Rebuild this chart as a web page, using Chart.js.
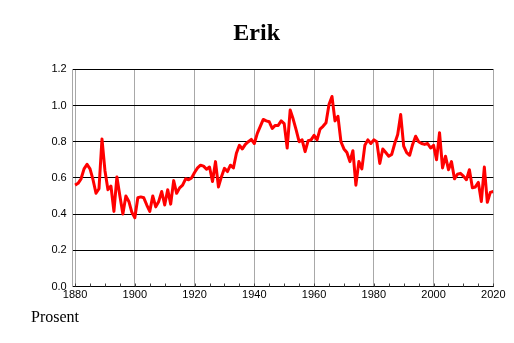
<!DOCTYPE html>
<html>
<head>
<meta charset="utf-8">
<script src="https://cdn.jsdelivr.net/npm/chart.js@4/dist/chart.umd.min.js"></script>
<style>
html,body{margin:0;padding:0;background:#fff;}
#wrap{width:514px;height:343px;position:relative;}
</style>
</head>
<body>
<div id="wrap"><canvas id="c" width="514" height="343"></canvas></div>
<script>
const chartTitle = 'Erik';
const unitLabel = 'Prosent';
const firstYear = 1880;
const shares = [
  0.56, 0.57, 0.595, 0.65, 0.675, 0.65, 0.59, 0.515, 0.54, 0.815,
  0.64, 0.535, 0.555, 0.415, 0.605, 0.50, 0.40, 0.50, 0.47, 0.41,
  0.38, 0.49, 0.495, 0.49, 0.45, 0.415, 0.50, 0.44, 0.47, 0.525,
  0.45, 0.535, 0.455, 0.585, 0.515, 0.545, 0.56, 0.595, 0.59, 0.60,
  0.63, 0.655, 0.67, 0.665, 0.648, 0.66, 0.58, 0.69, 0.55, 0.607,
  0.653, 0.635, 0.67, 0.655, 0.736, 0.78, 0.76, 0.785, 0.80, 0.813,
  0.79, 0.846, 0.885, 0.923, 0.915, 0.91, 0.873, 0.89, 0.89, 0.915,
  0.90, 0.765, 0.975, 0.925, 0.865, 0.80, 0.81, 0.745, 0.805, 0.81,
  0.835, 0.81, 0.87, 0.885, 0.905, 1.005, 1.05, 0.915, 0.94, 0.80,
  0.76, 0.74, 0.69, 0.75, 0.56, 0.69, 0.65, 0.78, 0.81, 0.79,
  0.81, 0.80, 0.68, 0.76, 0.74, 0.72, 0.73, 0.79, 0.84, 0.95,
  0.775, 0.74, 0.725, 0.785, 0.83, 0.80, 0.79, 0.785, 0.79, 0.765,
  0.78, 0.70, 0.85, 0.655, 0.72, 0.645, 0.69, 0.595, 0.62, 0.625,
  0.61, 0.59, 0.645, 0.545, 0.55, 0.575, 0.47, 0.66, 0.465, 0.52,
  0.525
];
const years = shares.map((_, i) => firstYear + i);
const xTickYears = [1880, 1900, 1920, 1940, 1960, 1980, 2000, 2020];
const xMinorYears = [1885, 1890, 1895, 1905, 1910, 1915, 1925, 1930, 1935, 1945, 1950, 1955,
  1965, 1970, 1975, 1985, 1990, 1995, 2005, 2010, 2015];
const yTickValues = [0, 0.2, 0.4, 0.6, 0.8, 1.0, 1.2];

const axisFont = {family: '"Liberation Sans Narrow", "Liberation Sans", Arial, sans-serif', size: 11};

const minorTicks = {
  id: 'minorTicks',
  afterDatasetsDraw(chart) {
    const {ctx, chartArea} = chart;
    const xs = chart.scales.x;
    ctx.save();
    ctx.strokeStyle = '#444';
    ctx.lineWidth = 1;
    ctx.beginPath();
    xMinorYears.concat(xTickYears).forEach(v => {
      const px = Math.round(xs.getPixelForValue(v)) + 0.5;
      ctx.moveTo(px, chartArea.bottom);
      ctx.lineTo(px, chartArea.bottom - 3);
    });
    ctx.stroke();
    ctx.restore();
  }
};

const unitText = {
  id: 'unitText',
  afterDraw(chart) {
    const {ctx} = chart;
    ctx.save();
    ctx.font = '16px "Liberation Serif", "Times New Roman", serif';
    ctx.fillStyle = '#000';
    ctx.textBaseline = 'alphabetic';
    ctx.textAlign = 'left';
    ctx.fillText(unitLabel, 31, 321.5);
    ctx.restore();
  }
};

new Chart(document.getElementById('c'), {
  type: 'line',
  data: {
    datasets: [{
      data: years.map((y, i) => ({x: y, y: shares[i]})),
      borderColor: '#ff0000',
      borderWidth: 3,
      pointRadius: 0,
      tension: 0,
      fill: false,
      borderJoinStyle: 'round'
    }]
  },
  options: {
    responsive: false,
    animation: false,
    devicePixelRatio: 1,
    layout: {padding: {left: 20, right: 20.7, top: 0, bottom: 0}},
    plugins: {
      legend: {display: false},
      tooltip: {enabled: false},
      title: {
        display: true,
        text: chartTitle,
        color: '#000',
        font: {family: '"Liberation Serif", "Times New Roman", serif', size: 24, weight: 'bold', lineHeight: 1.2},
        padding: {top: 19.2, bottom: 21.3}
      }
    },
    scales: {
      x: {
        type: 'linear',
        min: 1879.2,
        max: 2020,
        afterBuildTicks: s => { s.ticks = xTickYears.map(v => ({value: v})); },
        afterFit: s => { s.height = 56.5; },
        grid: {color: '#a8a8a8', lineWidth: 1, drawTicks: false},
        border: {color: '#000', width: 1},
        ticks: {color: '#000', font: axisFont, padding: 2, maxRotation: 0, autoSkip: false,
                callback: v => String(v)}
      },
      y: {
        min: 0,
        max: 1.2,
        afterBuildTicks: s => { s.ticks = yTickValues.map(v => ({value: v})); },
        afterFit: s => { s.width = 52.7; },
        grid: {color: '#000', lineWidth: 1, drawTicks: false},
        border: {color: '#a8a8a8', width: 1},
        ticks: {color: '#000', font: axisFont, padding: 6, callback: v => Number(v).toFixed(1)}
      }
    }
  },
  plugins: [minorTicks, unitText]
});
</script>
</body>
</html>
